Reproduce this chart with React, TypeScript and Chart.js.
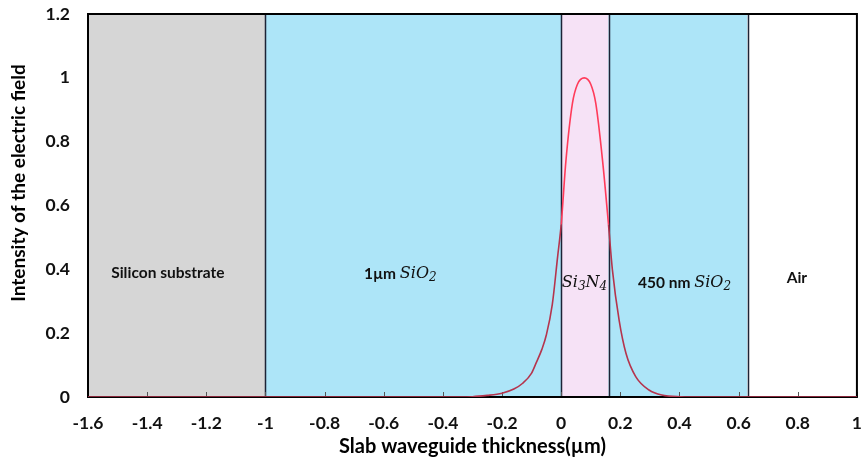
import React, { useEffect, useRef } from "react";
import { Chart, registerables } from "chart.js";

Chart.register(...registerables);

// ---- data ----
const fieldX = [-1.6, -0.4, -0.3, -0.25, -0.2, -0.16, -0.13, -0.1, -0.085, -0.065, -0.05, -0.03, -0.012, 0, 0.016, 0.038, 0.055, 0.078, 0.1, 0.117, 0.14, 0.16, 0.173, 0.196, 0.219, 0.252, 0.297, 0.34, 0.4, 0.5, 1];
const fieldY = [0, 0, 0.001, 0.005, 0.012, 0.025, 0.043, 0.075, 0.106, 0.15, 0.195, 0.29, 0.44, 0.54, 0.74, 0.92, 0.98, 1.0, 0.98, 0.92, 0.74, 0.54, 0.4, 0.24, 0.137, 0.064, 0.022, 0.006, 0.001, 0, 0];

const layerBounds = [-1.6, -1, 0, 0.16, 0.63, 1];
const layerNames = ["Silicon substrate", "1µm SiO2", "Si3N4", "450 nm SiO2", "Air"];

const xMin = -1.6, xMax = 1, xStep = 0.2;
const yMin = 0, yMax = 1.2, yStep = 0.2;

const xTitle = "Slab waveguide thickness(µm)";
const yTitle = "Intensity of the electric field";

// ---- styles / annotation placement ----
const layerColors = ["#d6d6d6", "#ade5f8", "#f6e2f6", "#ade5f8", "#ffffff"];
const SANS = "Lato, 'Open Sans', sans-serif";
const MATH = "'DejaVu Serif', serif";

type Part = { t: string; k: "sans" | "math" | "sub" };
const layerLabelParts: Part[][] = [
  [{ t: "Silicon substrate", k: "sans" }],
  [{ t: "1µm ", k: "sans" }, { t: "SiO", k: "math" }, { t: "2", k: "sub" }],
  [{ t: "Si", k: "math" }, { t: "3", k: "sub" }, { t: "N", k: "math" }, { t: "4", k: "sub" }],
  [{ t: "450 nm ", k: "sans" }, { t: "SiO", k: "math" }, { t: "2", k: "sub" }],
  [{ t: "Air", k: "sans" }],
];
const layerLabelPos = [
  { x: -1.33, y: 0.39 },
  { x: -0.544, y: 0.385 },
  { x: 0.079, y: 0.357 },
  { x: 0.417, y: 0.357 },
  { x: 0.797, y: 0.373 },
];

function fontFor(k: Part["k"]) {
  if (k === "sans") return `bold 15.5px ${SANS}`;
  if (k === "math") return `italic 16px ${MATH}`;
  return `italic 12px ${MATH}`;
}

function drawRich(ctx: CanvasRenderingContext2D, parts: Part[], cx: number, cy: number) {
  let total = 0;
  const widths = parts.map((p) => {
    ctx.font = fontFor(p.k);
    const w = ctx.measureText(p.t).width;
    total += w;
    return w;
  });
  let x = cx - total / 2;
  ctx.textBaseline = "middle";
  ctx.textAlign = "left";
  ctx.fillStyle = "#111";
  parts.forEach((p, i) => {
    ctx.font = fontFor(p.k);
    ctx.fillText(p.t, x, cy + (p.k === "sub" ? 4 : 0));
    x += widths[i];
  });
}

const layersPlugin = {
  id: "layers",
  beforeDatasetsDraw(chart: any) {
    const { ctx, chartArea } = chart;
    const xs = chart.scales.x;
    const ys = chart.scales.y;
    const { top, bottom, left, right } = chartArea;
    ctx.save();
    for (let i = 0; i < layerBounds.length - 1; i++) {
      const x0 = xs.getPixelForValue(layerBounds[i]);
      const x1 = xs.getPixelForValue(layerBounds[i + 1]);
      ctx.fillStyle = layerColors[i];
      ctx.fillRect(x0, top, x1 - x0, bottom - top);
    }
    ctx.strokeStyle = "#1c2336";
    ctx.lineWidth = 1.5;
    for (let i = 1; i < layerBounds.length - 1; i++) {
      const x = Math.round(xs.getPixelForValue(layerBounds[i])) + 0.5;
      ctx.beginPath();
      ctx.moveTo(x, top);
      ctx.lineTo(x, bottom);
      ctx.stroke();
    }
    // inward x tick marks
    ctx.strokeStyle = "#555";
    ctx.lineWidth = 1;
    xs.ticks.forEach((t: any) => {
      const x = Math.round(xs.getPixelForValue(t.value)) + 0.5;
      ctx.beginPath();
      ctx.moveTo(x, bottom);
      ctx.lineTo(x, bottom - 5);
      ctx.stroke();
    });
    // frame
    ctx.strokeStyle = "#000";
    ctx.lineWidth = 2;
    ctx.strokeRect(left, top, right - left, bottom - top);
    // labels
    layerLabelParts.forEach((parts, i) => {
      drawRich(ctx, parts, xs.getPixelForValue(layerLabelPos[i].x), ys.getPixelForValue(layerLabelPos[i].y));
    });
    // y title
    ctx.translate(19, 183);
    ctx.rotate(-Math.PI / 2);
    ctx.font = `bold 19px ${SANS}`;
    ctx.textAlign = "center";
    ctx.textBaseline = "middle";
    ctx.fillStyle = "#000";
    ctx.fillText(yTitle, 0, 0);
    ctx.restore();
  },
};

const fmt = (v: number) => String(parseFloat(Number(v).toFixed(1)));

export default function App() {
  const ref = useRef<HTMLCanvasElement>(null);
  useEffect(() => {
    if (!ref.current) return;
    const core0 = layerBounds[2], core1 = layerBounds[3];
    const chart = new Chart(ref.current, {
      type: "line",
      data: {
        datasets: [
          {
            label: "E-field",
            data: fieldX.map((x, i) => ({ x, y: fieldY[i] })),
            borderColor: "#b5344d",
            borderWidth: 1.6,
            pointRadius: 0,
            cubicInterpolationMode: "monotone",
            segment: {
              borderColor: (c: any) =>
                c.p0.parsed.x >= core0 - 1e-6 && c.p1.parsed.x <= core1 + 1e-6 ? "#ff3b5a" : "#b5344d",
            },
          } as any,
        ],
      },
      options: {
        animation: false,
        responsive: true,
        maintainAspectRatio: false,
        layout: { padding: { top: 14, right: 0, left: 0, bottom: 0 } },
        plugins: { legend: { display: false }, tooltip: { enabled: false } },
        scales: {
          x: {
            type: "linear",
            min: xMin,
            max: xMax,
            grid: { display: false, drawTicks: false },
            border: { display: false },
            ticks: {
              stepSize: xStep,
              padding: 0,
              maxRotation: 0,
              autoSkip: false,
              color: "#111",
              font: { family: SANS, size: 17.5, weight: "bold", lineHeight: 3 },
              callback: (v: any) => fmt(v),
            },
            title: {
              display: true,
              text: xTitle,
              color: "#000",
              font: { family: SANS, size: 20, weight: "bold" },
              padding: { top: 0, bottom: 2 },
            },
            afterFit: (s: any) => {
              s.height = 64;
            },
          },
          y: {
            min: yMin,
            max: yMax,
            grid: {
              display: true,
              drawOnChartArea: false,
              drawTicks: true,
              tickLength: 18,
              color: "rgba(0,0,0,0)",
            },
            border: { display: false },
            ticks: {
              stepSize: yStep,
              padding: 0,
              color: "#111",
              font: { family: SANS, size: 17.5, weight: "bold", lineHeight: 0.9 },
              callback: (v: any) => fmt(v),
            },
            afterFit: (s: any) => {
              s.width = 88;
            },
          },
        },
      } as any,
      plugins: [layersPlugin],
    });
    return () => chart.destroy();
  }, []);
  return (
    <div style={{ position: "absolute", left: 0, top: 0, width: 862, height: 461, background: "#fff" }}>
      <canvas ref={ref} />
    </div>
  );
}
